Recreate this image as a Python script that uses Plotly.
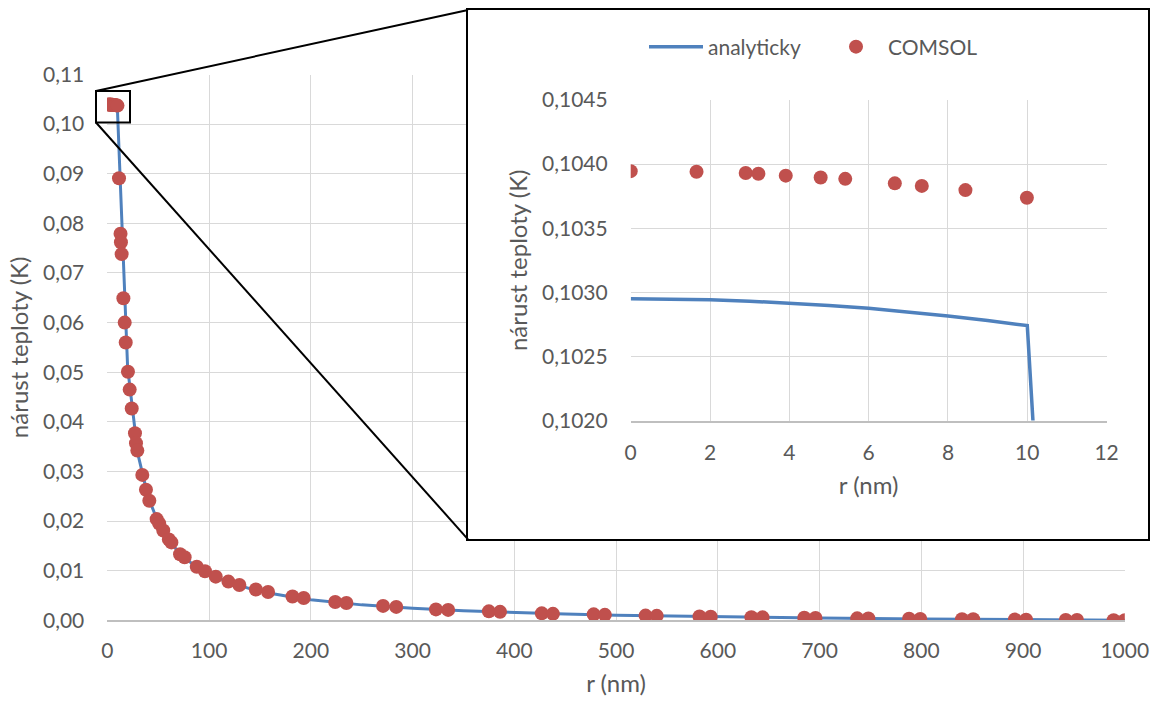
import plotly.graph_objects as go

# ---------------- data ----------------
r_analytic = [0, 1, 2, 3, 4, 5, 6, 7, 8, 9, 10, 20, 30, 40, 50, 60, 70, 80, 90, 100,
              120, 140, 160, 180, 200, 250, 300, 350, 400, 450, 500, 600, 700, 800, 900, 1000]
t_analytic = [0.10295, 0.102948, 0.102942, 0.102931, 0.102916, 0.102898, 0.102875, 0.102848,
              0.102816, 0.102780, 0.102740, 0.05085, 0.03356, 0.02491, 0.01972, 0.01626, 0.01379,
              0.01193, 0.01049, 0.00934, 0.00761, 0.00638, 0.00545, 0.00473, 0.00415, 0.00311,
              0.00242, 0.00193, 0.00156, 0.00127, 0.00104, 0.00069, 0.00044, 0.00026, 0.00012, 0.0]

r_comsol = [0, 1.66, 2.90, 3.22, 3.91, 4.79, 5.41, 6.66, 7.34, 8.44, 9.99,
            11.5, 13.0, 13.4, 14.1, 15.8, 17.1, 18.1, 20.3, 22.0, 24.0, 27.2, 28.2, 29.5,
            34.4, 38.0, 41.3, 48.5, 51.0, 55.0, 60.5, 63.0, 71.5, 76.0, 87.9, 96.0, 106.6,
            119.0, 129.8, 146, 158, 182, 193, 224, 235, 271, 284, 323, 335, 375, 386, 427, 438,
            478, 489, 529, 540, 582, 593, 633, 644, 685, 696, 737, 748, 788, 799, 840, 851,
            892, 903, 942, 953, 989, 1000]
t_comsol = [0.103945, 0.10394, 0.10393, 0.103925, 0.10391, 0.103896, 0.103885, 0.10385, 0.10383,
            0.103797, 0.103737,
            0.0891, 0.0779, 0.0762, 0.0738, 0.0649, 0.0600, 0.0560, 0.0501, 0.0465, 0.0427, 0.0377,
            0.0357, 0.0342, 0.0293, 0.0263, 0.0241, 0.0204, 0.0195, 0.0181, 0.0163, 0.0157, 0.0133,
            0.0127, 0.0108, 0.0099, 0.0088, 0.0078, 0.0071, 0.0062, 0.0057, 0.0048, 0.0045, 0.0037,
            0.0035, 0.0029, 0.0027, 0.0022, 0.0021, 0.0018, 0.0017, 0.0014, 0.0013, 0.0012, 0.0011,
            0.00095, 0.0009, 0.00077, 0.00073, 0.00062, 0.00059, 0.0005, 0.00047, 0.00039, 0.00037,
            0.0003, 0.00028, 0.00022, 0.0002, 0.00015, 0.00013, 0.00008, 0.00007, 0.00002, 0.0]

name_line = "analyticky"
name_pts = "COMSOL"
x_title = "r (nm)"
y_title = "nárust teploty (K)"

# ---------------- layout helpers ----------------
W, H = 1150, 701
def px(x):
    return x / W
def py(y):
    return 1 - y / H

BLUE = "#4f81bd"
RED = "#c0504d"
GRID = "#d9d9d9"
TXT = "#595959"
FONT = "Lato"

fig = go.Figure()

# main chart
fig.add_trace(go.Scatter(x=r_analytic, y=t_analytic, mode="lines", name=name_line,
                         line=dict(color=BLUE, width=3), xaxis="x", yaxis="y",
                         legendgroup="a", showlegend=False))
fig.add_trace(go.Scatter(x=r_comsol, y=t_comsol, mode="markers", name=name_pts,
                         marker=dict(color=RED, size=14), xaxis="x", yaxis="y",
                         legendgroup="b", showlegend=False))
# cover panel (white box with black border)
fig.add_trace(go.Scatter(x=[None], y=[None], xaxis="x2", yaxis="y2", showlegend=False,
                         hoverinfo="skip"))
# inset chart
fig.add_trace(go.Scatter(x=r_analytic, y=t_analytic, mode="lines", name=name_line,
                         line=dict(color=BLUE, width=3.5), xaxis="x3", yaxis="y3",
                         legendgroup="a"))
fig.add_trace(go.Scatter(x=r_comsol, y=t_comsol, mode="markers", name=name_pts,
                         marker=dict(color=RED, size=14), xaxis="x3", yaxis="y3",
                         legendgroup="b"))

tickfont = dict(family=FONT, size=21, color=TXT)
titlefont = dict(family=FONT, size=24, color=TXT)

common = dict(automargin=False, ticks="", zeroline=False)

fig.update_layout(
    width=W, height=H,
    margin=dict(l=0, r=0, t=0, b=0, autoexpand=False),
    paper_bgcolor="white", plot_bgcolor="white",
    separators=", ",
    font=dict(family=FONT, color=TXT),
    showlegend=True,
    legend=dict(orientation="h", x=px(644), xanchor="left", y=py(47), yanchor="middle",
                font=dict(family=FONT, size=21, color=TXT), bgcolor="rgba(0,0,0,0)",
                itemwidth=54, entrywidth=111, entrywidthmode="pixels"),
    xaxis=dict(domain=[px(107.3), px(1124.8)], range=[0, 1000], dtick=100, tickformat="d",
               showgrid=True, gridcolor=GRID, gridwidth=1,
               showline=True, linecolor="#bfbfbf", linewidth=1.5,
               tickfont=tickfont, ticklabelstandoff=11, anchor="y",
               title=dict(text=x_title, font=titlefont, standoff=14), **common),
    yaxis=dict(domain=[py(620.3), py(74.5)], range=[0, 0.11], dtick=0.01, tickformat=".2f",
               showgrid=True, gridcolor=GRID, gridwidth=1,
               showline=False, tickfont=tickfont, ticklabelstandoff=22, anchor="x",
               title=dict(text=y_title, font=titlefont, standoff=7), **common),
    xaxis2=dict(domain=[px(468), px(1147.5)], range=[0, 1], anchor="y2",
                showgrid=False, showticklabels=False,
                showline=True, mirror=True, linecolor="black", linewidth=2, fixedrange=True,
                **common),
    yaxis2=dict(domain=[py(539.3), py(10)], range=[0, 1], anchor="x2",
                showgrid=False, showticklabels=False,
                showline=True, mirror=True, linecolor="black", linewidth=2, fixedrange=True,
                **common),
    xaxis3=dict(domain=[px(630.7), px(1106.6)], range=[0, 12], dtick=2, tickformat="d",
                showgrid=True, gridcolor=GRID, gridwidth=1,
                showline=True, linecolor="#bfbfbf", linewidth=1.5,
                tickfont=tickfont, ticklabelstandoff=13, anchor="y3",
                title=dict(text=x_title, font=titlefont, standoff=14), **common),
    yaxis3=dict(domain=[py(420.5), py(100)], range=[0.1020, 0.1045], dtick=0.0005,
                tickformat=".4f",
                showgrid=True, gridcolor=GRID, gridwidth=1,
                showline=False, tickfont=tickfont, ticklabelstandoff=22, anchor="x3",
                title=dict(text=y_title, font=titlefont, standoff=7), **common),
)

# zoom rectangle and connector lines (paper coordinates)
rect = (96, 91, 130, 122.5)
inset_box = (468, 10, 1147.5, 539.3)
fig.add_shape(type="rect", xref="paper", yref="paper", x0=px(rect[0]), x1=px(rect[2]),
              y0=py(rect[3]), y1=py(rect[1]), line=dict(color="black", width=2), layer="above")
fig.add_shape(type="line", xref="paper", yref="paper", x0=px(rect[0]), y0=py(rect[1]),
              x1=px(inset_box[0]), y1=py(inset_box[1]), line=dict(color="black", width=2),
              layer="above")
fig.add_shape(type="line", xref="paper", yref="paper", x0=px(rect[0]), y0=py(rect[3]),
              x1=px(inset_box[0]), y1=py(inset_box[3]), line=dict(color="black", width=2),
              layer="above")

fig.write_html("out.html")
